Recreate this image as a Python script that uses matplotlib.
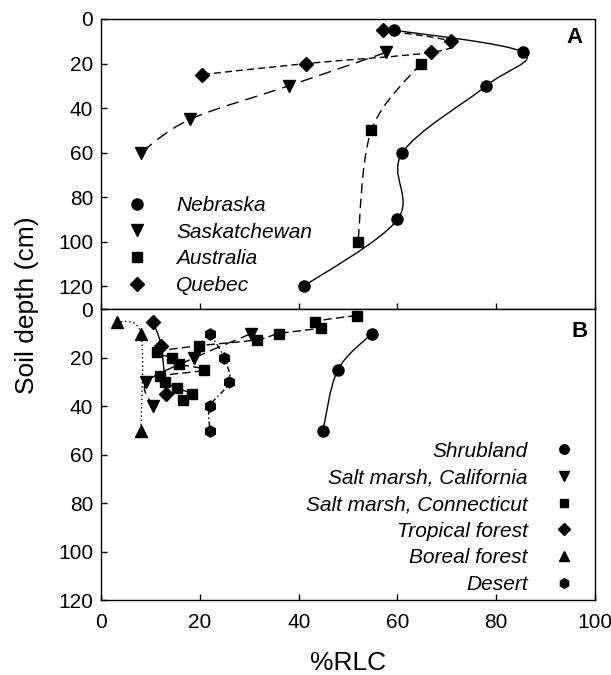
import matplotlib
matplotlib.use("Agg")
import matplotlib.pyplot as plt
import numpy as np
from matplotlib.lines import Line2D
from matplotlib.patches import PathPatch
from matplotlib.path import Path

plt.rcParams["font.family"] = ["Liberation Sans", "DejaVu Sans"]

# Panel A: single-site profiles (%RLC, soil depth in cm)
NEBRASKA_X = [59.3, 85.5, 78.0, 61.0, 60.0, 41.0]
NEBRASKA_Y = [5, 15, 30, 60, 90, 120]
SASKATCHEWAN_X = [57.7, 38.0, 18.0, 8.0]
SASKATCHEWAN_Y = [15, 30, 45, 60]
AUSTRALIA_X = [64.7, 54.7, 52.0]
AUSTRALIA_Y = [20, 50, 100]
QUEBEC_X = [57.0, 70.8, 66.8, 41.5, 20.3]
QUEBEC_Y = [5, 10, 15, 20, 25]

# Panel B: ecosystem profiles
SHRUB_X = [54.8, 47.9, 44.9]
SHRUB_Y = [10, 25, 50]
SM_CA_X = [30.3, 18.8, 9.1, 10.5]
SM_CA_Y = [10, 20, 30, 40]
SM_CT_X = [51.7, 43.3, 44.5, 35.9, 31.6, 19.7, 11.3, 14.3, 15.7, 20.7,
           11.8, 12.8, 15.4, 18.3, 16.5]
SM_CT_Y = [2.5, 5, 7.5, 10, 12.5, 15, 17.5, 20, 22.5, 25,
           27.5, 30, 32.5, 35, 37.5]
TROPICAL_X = [10.4, 12.1, 13.1]
TROPICAL_Y = [5, 15, 35]
BOREAL_X = [3.1, 8.0, 8.0]
BOREAL_Y = [5, 10, 50]
DESERT_X = [22.0, 24.9, 25.9, 22.0, 22.0]
DESERT_Y = [10, 20, 30, 40, 50]

PANEL_A = [
    ("Nebraska", NEBRASKA_X, NEBRASKA_Y, "o", 8, "-"),
    ("Saskatchewan", SASKATCHEWAN_X, SASKATCHEWAN_Y, "v", 8, (0, (9, 5))),
    ("Australia", AUSTRALIA_X, AUSTRALIA_Y, "s", 7, (0, (7, 4))),
    ("Quebec", QUEBEC_X, QUEBEC_Y, "D", 7, (0, (5, 3))),
]
PANEL_B = [
    ("Shrubland", SHRUB_X, SHRUB_Y, "o", 8, "-"),
    ("Salt marsh, California", SM_CA_X, SM_CA_Y, "v", 8, (0, (8, 4))),
    ("Salt marsh, Connecticut", SM_CT_X, SM_CT_Y, "s", 7, (0, (6, 3))),
    ("Tropical forest", TROPICAL_X, TROPICAL_Y, "D", 7, "-"),
    ("Boreal forest", BOREAL_X, BOREAL_Y, "^", 8, (0, (1, 2))),
    ("Desert", DESERT_X, DESERT_Y, "h", 8, (0, (4, 2, 1, 2))),
]


def smooth_path(xs, ys):
    """Catmull-Rom curve through the points, as cubic Bezier segments."""
    pts = np.column_stack([xs, ys]).astype(float)
    verts = [pts[0]]
    codes = [Path.MOVETO]
    n = len(pts)
    for i in range(n - 1):
        p0 = pts[i - 1] if i > 0 else pts[i]
        p1, p2 = pts[i], pts[i + 1]
        p3 = pts[i + 2] if i + 2 < n else pts[i + 1]
        verts += [p1 + (p2 - p0) / 6, p2 - (p3 - p1) / 6, p2]
        codes += [Path.CURVE4] * 3
    return Path(verts, codes)


def draw_series(ax, series):
    for label, xs, ys, marker, size, ls in series:
        ax.add_patch(PathPatch(smooth_path(xs, ys), fill=False, lw=1.0,
                               ls=ls, edgecolor="black", zorder=2))
        ax.plot(xs, ys, ls="none", marker=marker, ms=size, color="black",
                zorder=3)


def style_axis(ax, ymax):
    ax.set_xlim(0, 100)
    ax.set_ylim(ymax, 0)
    ax.set_yticks(np.arange(0, 121, 20))
    ax.set_xticks(np.arange(0, 101, 20))
    ax.tick_params(direction="in", length=4, width=1, labelsize=15, pad=6)
    for spine in ax.spines.values():
        spine.set_linewidth(1.0)


fig = plt.figure(figsize=(6.11, 6.75), dpi=100)
ax_a = fig.add_axes([0.166, 0.5415, 0.8075, 0.4304])
ax_b = fig.add_axes([0.166, 0.1111, 0.8075, 0.4304])

draw_series(ax_a, PANEL_A)
draw_series(ax_b, PANEL_B)
style_axis(ax_a, 130.4)
style_axis(ax_b, 120)
ax_a.tick_params(axis="x", labelbottom=False)
ax_b.tick_params(axis="x", pad=9)

ax_a.text(0.975, 0.935, "A", transform=ax_a.transAxes, ha="right",
          va="center", fontsize=16, fontweight="bold")
ax_b.text(0.985, 0.925, "B", transform=ax_b.transAxes, ha="right",
          va="center", fontsize=16, fontweight="bold")

legend_font = {"size": 15, "style": "italic"}

handles_a = [Line2D([], [], ls="none", marker=m, ms=s, color="black")
             for _, _, _, m, s, _ in PANEL_A]
ax_a.legend(handles_a, [s[0] for s in PANEL_A], loc="lower left",
            bbox_to_anchor=(0.052, 0.05), frameon=False, borderpad=0,
            borderaxespad=0, handlelength=1.0, handletextpad=1.36,
            labelspacing=0.37, prop=legend_font)

handles_b = [Line2D([], [], ls="none", marker=m, ms=s * 0.85, color="black")
             for _, _, _, m, s, _ in PANEL_B]
ax_b.legend(handles_b, [s[0] for s in PANEL_B], loc="lower right",
            bbox_to_anchor=(0.959, 0.02), frameon=False, borderpad=0,
            borderaxespad=0, handlelength=1.0, handletextpad=1.25,
            labelspacing=0.37, markerfirst=False, prop=legend_font)

ax_b.set_xlabel("%RLC", fontsize=19, labelpad=14)
fig.text(27 / 611, 1 - 305 / 675, "Soil depth (cm)", rotation=90,
         ha="center", va="center", fontsize=19)

fig.savefig("out.png", dpi=100)
